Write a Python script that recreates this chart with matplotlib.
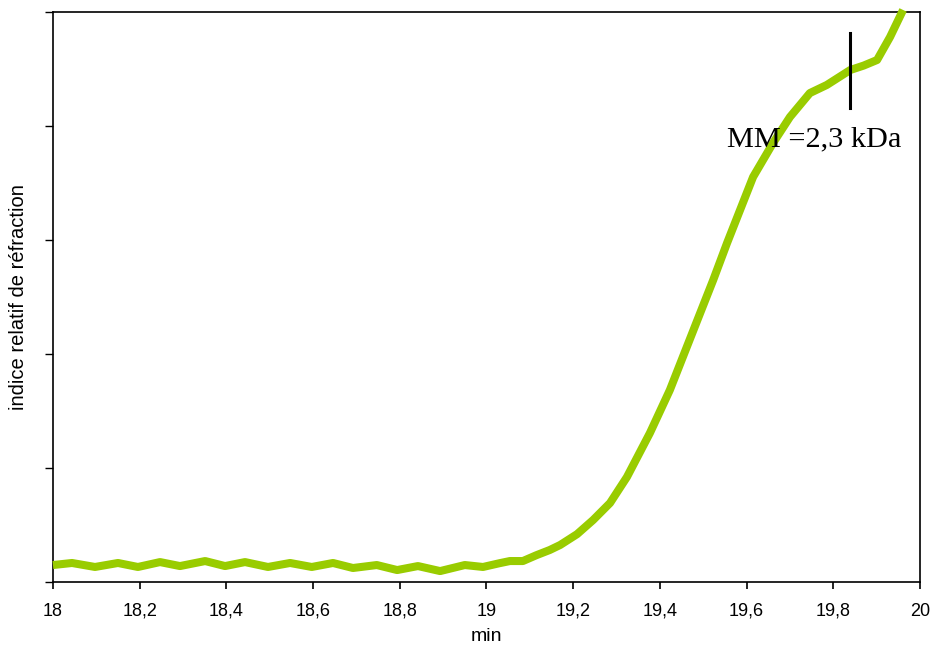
import matplotlib
matplotlib.use("Agg")
import matplotlib.pyplot as plt

# elution time (min) and relative refractive index (arbitrary units, 0..5)
time_min = [18.000, 18.044, 18.097, 18.150, 18.196, 18.247, 18.293, 18.351,
            18.397, 18.443, 18.496, 18.547, 18.597, 18.646, 18.692, 18.747,
            18.794, 18.842, 18.893, 18.950, 18.992, 19.030, 19.054, 19.084,
            19.115, 19.146, 19.170, 19.209, 19.246, 19.285, 19.324, 19.377,
            19.423, 19.453, 19.493, 19.523, 19.555, 19.615, 19.661, 19.700,
            19.746, 19.785, 19.839, 19.870, 19.901, 19.931, 19.961]
signal = [0.149, 0.167, 0.132, 0.167, 0.132, 0.175, 0.140, 0.184,
          0.140, 0.175, 0.132, 0.167, 0.132, 0.167, 0.123, 0.149,
          0.105, 0.140, 0.096, 0.149, 0.132, 0.165, 0.184, 0.184,
          0.235, 0.281, 0.325, 0.420, 0.544, 0.693, 0.921, 1.307,
          1.684, 1.974, 2.360, 2.649, 2.974, 3.553, 3.851, 4.079,
          4.289, 4.360, 4.491, 4.530, 4.579, 4.781, 5.018]

marker_t = 19.839
marker_range = (4.158, 4.816)
label_text = "MM =2,3 kDa"
label_pos = (19.555, 3.82)

x_ticks = [18, 18.2, 18.4, 18.6, 18.8, 19, 19.2, 19.4, 19.6, 19.8, 20]
x_tick_labels = ["18", "18,2", "18,4", "18,6", "18,8", "19",
                 "19,2", "19,4", "19,6", "19,8", "20"]
y_ticks = [0, 1, 2, 3, 4, 5]

plt.rcParams['font.family'] = ['Liberation Sans', 'DejaVu Sans']

fig = plt.figure(figsize=(9.34, 6.49), dpi=100)
ax = fig.add_axes([0.0567, 0.1032, 0.9283, 0.8783])

ax.plot(time_min, signal, color="#99CC00", lw=5.8, solid_capstyle="butt",
        solid_joinstyle="round", clip_on=False, zorder=3)
ax.plot([marker_t, marker_t], marker_range, color="black", lw=2.2, zorder=4)
ax.text(label_pos[0], label_pos[1], label_text, family="Liberation Serif",
        fontsize=21.8, ha="left", va="baseline", zorder=5)

ax.set_xlim(18, 20)
ax.set_ylim(0, 5)
ax.set_xticks(x_ticks)
ax.set_xticklabels(x_tick_labels, fontsize=13)
ax.set_yticks(y_ticks)
ax.set_yticklabels([])
ax.tick_params(axis="x", direction="out", length=5, width=1.2, pad=10)
ax.tick_params(axis="y", direction="out", length=6, width=1.0)

for s in ax.spines.values():
    s.set_linewidth(1.2)
    s.set_color("black")

ax.set_xlabel("min", fontsize=14)
ax.xaxis.set_label_coords(0.5, -0.081)
ax.set_ylabel("indice relatif de réfraction", fontsize=14.5)
ax.yaxis.set_label_coords(-0.029, 0.5)

fig.savefig("out.png", dpi=100)
